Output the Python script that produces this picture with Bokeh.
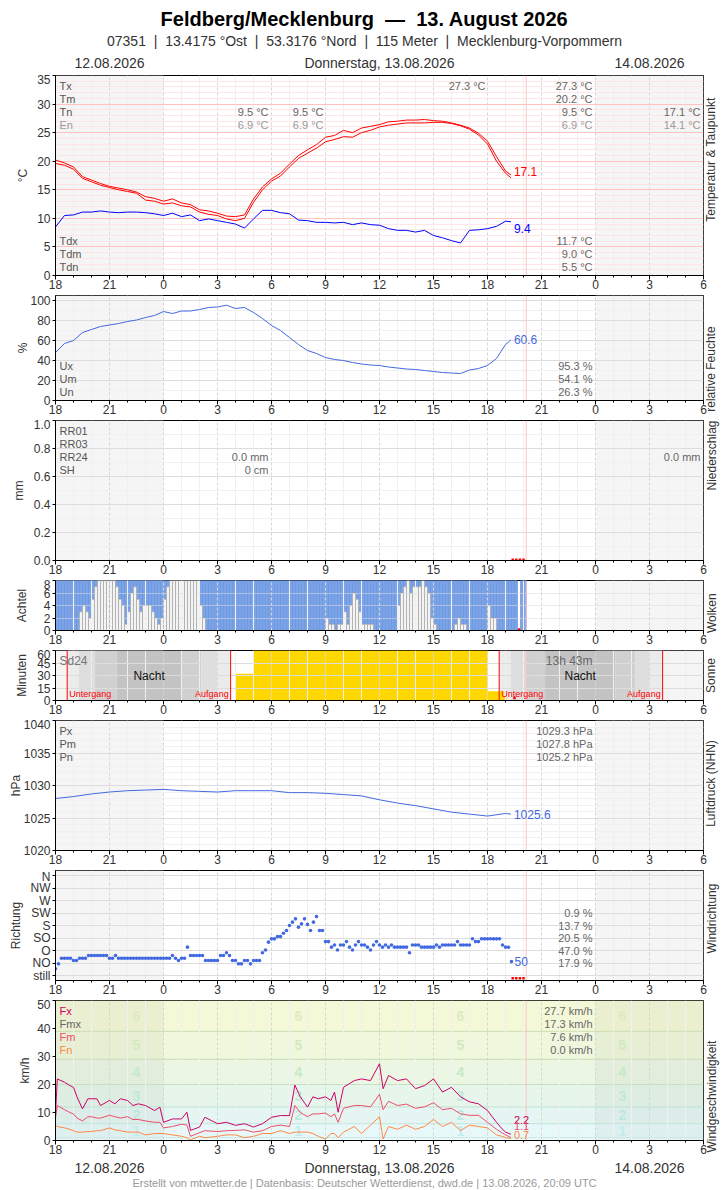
import math
from bokeh.plotting import figure
from bokeh.layouts import column
from bokeh.models import (Range1d, FixedTicker, Label, ColumnDataSource, Span, LinearAxis,
                          CustomJSTickFormatter, NumeralTickFormatter)
from bokeh.core.properties import value
from bokeh.embed import file_html
from bokeh.resources import INLINE

FONT = "Liberation Sans"

# ================= DATA (hours since 12.08.2026 18:00 UTC) =================
hour_ticks = [0, 3, 6, 9, 12, 15, 18, 21, 24, 27, 30, 33, 36]
hour_minor = [h for h in range(0, 37) if h % 3]
other_day_start = [0, 30]
other_day_end = [6, 36]
now_hour = 26.15
date_texts = ["12.08.2026", "Donnerstag, 13.08.2026", "14.08.2026"]
date_hours = [3, 18, 33]

t30 = [0.0, 0.5, 1.0, 1.5, 2.0, 2.5, 3.0, 3.5, 4.0, 4.5, 5.0, 5.5, 6.0, 6.5, 7.0, 7.5,
       8.0, 8.5, 9.0, 9.5, 10.0, 10.5, 11.0, 11.5, 12.0, 12.5, 13.0, 13.5, 14.0, 14.5,
       15.0, 15.5, 16.0, 16.5, 17.0, 17.5, 18.0, 18.5, 19.0, 19.5, 20.0, 20.5, 21.0,
       21.5, 22.0, 22.5, 23.0, 23.5, 24.0, 24.5, 25.0, 25.3]
temp_hi = [20.2, 19.7, 19.0, 17.3, 16.7, 16.1, 15.6, 15.3, 15.0, 14.6, 13.8, 13.5, 13.0,
           13.4, 12.7, 12.4, 11.5, 11.3, 10.9, 10.4, 10.3, 10.6, 13.4, 15.5, 16.9, 17.9,
           19.5, 21.0, 22.0, 22.9, 24.2, 24.5, 25.4, 25.0, 25.8, 26.1, 26.4, 26.9, 27.0,
           27.2, 27.2, 27.3, 27.1, 27.0, 26.7, 26.3, 25.8, 24.9, 23.5, 20.8, 18.3, 17.6]
temp_lo = [19.6, 19.3, 18.6, 17.0, 16.4, 15.8, 15.4, 15.0, 14.7, 14.4, 13.2, 13.0, 12.5,
           12.7, 12.2, 12.0, 11.1, 10.7, 10.5, 9.9, 9.6, 10.0, 12.8, 15.0, 16.5, 17.4,
           19.0, 20.5, 21.4, 22.3, 23.4, 23.8, 24.3, 24.2, 25.0, 25.4, 26.0, 26.3, 26.5,
           26.7, 26.7, 26.7, 26.8, 26.8, 26.6, 26.2, 25.6, 24.6, 23.0, 20.0, 17.9, 17.1]
dewpoint = [8.5, 10.5, 10.6, 11.1, 11.1, 11.3, 11.1, 11.0, 11.1, 11.1, 11.0, 10.8, 10.5,
            10.9, 10.3, 10.6, 9.6, 9.9, 9.6, 9.3, 9.0, 8.3, 9.9, 11.4, 11.4, 11.0, 10.8,
            9.7, 9.6, 9.3, 9.3, 9.2, 9.3, 8.9, 9.2, 8.9, 8.8, 8.2, 7.9, 7.9, 7.6, 7.9,
            7.0, 6.6, 6.1, 5.7, 7.9, 8.0, 8.2, 8.6, 9.5, 9.4]
rel_hum = [48, 57, 60, 68, 71, 74, 75.5, 77, 79, 80.5, 83, 85, 89, 87, 89.5, 89.5, 91, 93,
           93.5, 95.3, 92, 93, 88, 82, 75, 70, 63, 56, 50, 47, 43, 41, 40, 38, 36.5, 35.5,
           35, 33.5, 32.5, 31.5, 31, 30, 29, 28, 27.5, 27, 30.5, 32, 35, 42, 56, 60.6]

p_hours = [0, 1, 2, 3, 4, 5, 6, 7, 8, 9, 10, 11, 12, 13, 14, 15, 16, 17, 18, 19, 20, 21,
           22, 23, 24, 25, 25.3]
pressure = [1028.0, 1028.3, 1028.7, 1029.0, 1029.2, 1029.3, 1029.4, 1029.2, 1029.1,
            1029.0, 1029.2, 1029.2, 1029.2, 1028.9, 1028.9, 1028.8, 1028.6, 1028.4,
            1027.8, 1027.3, 1026.9, 1026.4, 1025.9, 1025.6, 1025.3, 1025.7, 1025.6]

# cloud cover in eighths, 10-minute steps (None = missing)
cloud_octas = [0, 0, 0, 0, 0, 0, 0, 0, 3, 4, 3, 2,
               5, 7, 8, 8, 8, 8, 8, 8, 7, 5, 4, 1,
               3, 6, 7, 5, 3, 4, 4, 4, 3, 2, 1, 2,
               5, 7, 8, 8, 8, 8, 8, 8, 8, 8, 8, 8,
               4, 2, 0, 0, 0, 0, 0, 0, 0, 0, 0, 0,
               0, 0, 0, 0, 0, 0, 0, 0, 0, 0, 0, 0,
               0, 0, 0, 0, 0, 0, 0, 0, 0, 0, 0, 0,
               0, 0, 0, 0, 0, 0, 2, 1, 1, 0, 1, 1,
               3, 1, 4, 6, 5, 3, 1, 1, 1, 1, 0, 0,
               0, 0, 0, 0, 0, 0, 4, 6, 7, 8, 6, 7,
               7, 7, 8, 7, 6, 2, 1, 0, 0, 0, 0, 0,
               0, 1, 2, 1, 1, 0, 0, 0, 0, 0, 0, 0,
               4, 2, 2, 0, 0, 0, 0, 0, 0, 0, None, 0,
               0]

# sunshine minutes per interval
sun_start = [10, 11, 12, 13, 14, 15, 16, 17, 18, 19, 20, 21, 22, 23, 24, 24.92]
sun_end = [11, 12, 13, 14, 15, 16, 17, 18, 19, 20, 21, 22, 23, 24, 24.92, 25.05]
sun_minutes = [32, 60, 60, 60, 60, 60, 60, 60, 60, 60, 60, 60, 60, 60, 11, 5]
# sunset, dusk phases, dawn phases, sunrise (two nights)
night1 = [0.65, 1.3, 2.2, 3.4, 7.0, 8.1, 9.0, 9.73]
night2 = [24.65, 25.3, 26.1, 27.2, 31.1, 32.2, 33.0, 33.73]
twilight_shades = ["#ebebeb", "#dedede", "#d0d0d0", "#c3c3c3", "#d0d0d0", "#dedede", "#ebebeb"]

# wind direction (degrees, 10-minute steps)
wind_dir = [24, 42, 62, 62, 62, 62, 54, 54, 62, 62, 62, 72,
            72, 72, 72, 72, 72, 72, 62, 62, 72, 62, 62, 62,
            62, 62, 62, 62, 62, 62, 62, 62, 62, 62, 62, 62,
            62, 62, 62, 72, 62, 54, 62, 62, 102, 72, 72, 72,
            72, 72, 54, 54, 54, 54, 54, 72, 72, 82, 72, 54,
            54, 42, 42, 54, 54, 42, 54, 54, 54, 82, 92, 120,
            132, 132, 140, 140, 152, 162, 180, 192, 204, 174, 186, 204,
            184, 162, 192, 212, 162, 162, 122, 122, 102, 110, 92, 110,
            110, 122, 102, 92, 110, 122, 110, 110, 102, 92, 110, 122,
            110, 102, 110, 102, 110, 102, 102, 102, 102, 102, 82, 110,
            110, 110, 102, 102, 102, 102, 102, 110, 102, 110, 110, 110,
            110, 110, 122, 110, 110, 110, 110, 132, 122, 122, 132, 132,
            132, 132, 132, 132, 132, 110, 102, 102, 50]
dir_ticks = [0, 45, 90, 135, 180, 225, 270, 315, 360]
dir_names = ["still", "NO", "O", "SO", "S", "SW", "W", "NW", "N"]
dir_share_deg = [225, 180, 135, 90, 45]
dir_share_txt = ["0.9 %", "13.7 %", "20.5 %", "47.0 %", "17.9 %"]

# wind speed km/h
wind_hours = [0, 0.1, 0.5, 0.8, 1.0, 1.2, 1.5, 1.8, 2.0, 2.3, 2.5, 3.0, 3.3, 3.6, 4.0, 4.3,
              4.6, 5.0, 5.5, 5.8, 6.0, 6.5, 7.0, 7.3, 7.5, 8.0, 8.3, 9.0, 9.5, 10.0, 10.5,
              11.0, 11.5, 12.0, 12.5, 13.0, 13.3, 13.6, 14.0, 14.3, 14.6, 15.0, 15.3, 15.5,
              15.7, 16.0, 16.3, 16.6, 17.0, 17.5, 18.0, 18.2, 18.5, 19.0, 19.5, 20.0, 20.5,
              21.0, 21.5, 22.0, 22.5, 23.0, 23.5, 24.0, 24.5, 24.8, 25.0, 25.3]
gust = [9.5, 22.0, 20.8, 19.6, 19.0, 15.5, 11.3, 14.9, 14.9, 14.9,
        12.5, 14.3, 13.1, 14.9, 14.3, 12.5, 13.1, 12.5, 10.7, 11.9,
        6.5, 7.7, 7.7, 10.1, 3.6, 4.8, 8.3, 6.0, 6.5, 5.4,
        6.0, 4.8, 6.0, 8.3, 8.9, 8.9, 19.8, 15.6, 11.9, 15.6,
        14.9, 15.6, 14.3, 17.3, 10.1, 19.0, 20.2, 21.4, 22.0, 21.4,
        27.4, 18.5, 23.2, 21.4, 22.0, 18.5, 19.6, 22.0, 17.3, 19.0,
        15.6, 13.8, 13.1, 10.7, 6.5, 4.2, 3.0, 2.2]
wind_mean = [8.0, 12.5, 11.0, 10.0, 9.5, 8.0, 7.0, 8.5, 8.5, 8.0,
             8.0, 9.0, 8.5, 8.0, 8.5, 7.5, 7.5, 7.0, 6.5, 6.5,
             4.5, 5.0, 5.8, 5.5, 1.5, 2.8, 3.5, 3.2, 3.5, 3.6,
             3.8, 3.0, 3.5, 5.0, 5.5, 5.0, 12.5, 10.0, 8.5, 9.5,
             9.5, 9.8, 8.5, 9.5, 6.5, 11.5, 12.0, 12.5, 12.5, 12.0,
             16.5, 11.0, 14.0, 12.5, 13.0, 11.5, 12.0, 13.5, 11.0, 11.5,
             9.5, 9.0, 9.0, 6.5, 4.0, 2.8, 2.0, 1.1]
wind_min = [5.5, 5.0, 4.5, 4.0, 3.5, 3.0, 3.0, 3.2, 3.2, 3.5,
            3.5, 4.5, 3.8, 3.5, 3.0, 3.0, 3.0, 2.0, 2.5, 2.5,
            2.5, 2.0, 1.5, 1.0, 0.2, 1.5, 1.0, 1.5, 2.0, 2.0,
            1.0, 1.5, 2.5, 2.5, 3.5, 2.5, 3.0, 3.0, 3.0, 2.5,
            1.5, 0.5, 2.5, 2.5, 1.0, 3.0, 4.0, 5.0, 2.5, 5.5,
            8.5, 0.5, 5.0, 4.0, 5.5, 4.0, 5.0, 7.5, 5.0, 6.5,
            3.5, 5.5, 5.0, 4.5, 2.0, 1.5, 1.0, 0.7]
bft_edges = [0, 1, 6, 12, 20, 29, 39, 50]
bft_fill = ["#eefafa", "#e7f8f8", "#e5f6f2", "#e7f6eb", "#ebf6e3", "#eff7dc", "#f3f8d7"]
bft_line = ["#c6e8e8", "#bfe4de", "#bde1d3", "#c3e0c4", "#c6dcb4", "#cbdcb0"]
bft_num_y = [3.5, 9, 16, 24.5, 34, 44.5]
bft_num_txt = ["1", "2", "3", "4", "5", "6"]
bft_num_col = ["#c2ecec", "#bde8e0", "#bfe8d6", "#c6eac6", "#d2eac0", "#dcecc0"]
bft_num_hours = [4.5, 13.5, 22.5, 31.5]

missing_hours = [25.4, 25.6, 25.8, 26.0]

C_T = "#ff0000"
C_TD = "#0000ff"
C_BL = "#4169e1"
C_FX = "#cc0066"
C_FM = "#ee4d6a"
C_FN = "#ff8844"

FIG_W = 728
FL = 55          # frame left (px)
FR_BORDER = 25   # right border (frame right at 703)
XR = Range1d(0, 36)


def base_fig(fh, y0, y1, yticks, yminor, top=1, bottom=19):
    p = figure(width=FIG_W, height=top + fh + bottom, x_range=XR, y_range=Range1d(y0, y1),
               output_backend="svg", toolbar_location=None, title=None,
               min_border_left=FL, min_border_right=FR_BORDER, min_border_top=top,
               min_border_bottom=bottom)
    p.outline_line_color = "#000000"
    p.outline_line_width = 1
    p.outline_line_alpha = 1
    p.background_fill_color = "#ffffff"
    p.border_fill_color = "#ffffff"
    xa = p.xaxis[0]
    xa.ticker = FixedTicker(ticks=hour_ticks, minor_ticks=hour_minor)
    xa.formatter = CustomJSTickFormatter(code="return String((tick + 18) % 24);")
    xa.major_label_text_font = FONT
    xa.major_label_text_font_size = "12px"
    xa.major_label_text_color = "#333333"
    xa.major_tick_out = 4
    xa.major_tick_in = 0
    xa.minor_tick_out = 2
    xa.minor_tick_in = 0
    xa.major_label_standoff = 0
    xa.axis_line_color = "#000000"
    ya = p.yaxis[0]
    ya.ticker = FixedTicker(ticks=yticks, minor_ticks=yminor)
    ya.major_label_text_font = FONT
    ya.major_label_text_font_size = "12px"
    ya.major_label_text_color = "#333333"
    ya.major_tick_out = 3
    ya.major_tick_in = 0
    ya.minor_tick_out = 0
    ya.minor_tick_in = 0
    ya.major_label_standoff = 2
    ya.axis_line_color = "#000000"
    p.xgrid.grid_line_color = "#d6d6d6"
    p.xgrid.grid_line_dash = "3 2"
    p.xgrid.minor_grid_line_color = "#f0f0f0"
    p.ygrid.grid_line_color = "#dddddd"
    p.ygrid.minor_grid_line_color = "#f0f0f0"
    p.add_layout(Span(location=now_hour, dimension="height", line_color="#ffc4c4",
                      line_width=1, level="underlay"))
    return p


def blank_fig(h):
    # Bokeh aligns this frame with the panels' frames (55..703), x in hours
    p = figure(width=FIG_W, height=h, x_range=Range1d(0, 36), y_range=Range1d(0, h),
               output_backend="svg", toolbar_location=None, title=None,
               x_axis_location=None, y_axis_location=None,
               min_border_left=FL, min_border_right=FR_BORDER, min_border_top=0,
               min_border_bottom=0)
    p.outline_line_color = None
    p.grid.visible = False
    p.background_fill_color = "#ffffff"
    p.border_fill_color = "#ffffff"
    return p


def shade(p, y0, y1, color="#f5f5f5", alpha=1.0):
    p.quad(left=other_day_start, right=other_day_end, bottom=y0, top=y1,
           fill_color=color, fill_alpha=alpha, line_color=None, level="image")


def txt(p, ftop, fh, px, py, s, size="11px", color="#555555", align="left", bold=False):
    p.add_layout(Label(x=px - FL, y=ftop + fh - py, x_units="screen", y_units="screen",
                       text=s, text_font=FONT, text_font_size=size, text_color=color,
                       text_align=align, text_baseline="middle",
                       text_font_style=("bold" if bold else "normal")))


def side_labels(p, left, standoff, right):
    ya = p.yaxis[0]
    ya.axis_label = left
    ya.axis_label_standoff = standoff
    ya.axis_label_text_font = FONT
    ya.axis_label_text_font_size = "12px"
    ya.axis_label_text_font_style = "normal"
    ya.axis_label_text_color = "#333333"
    mid = (p.y_range.start + p.y_range.end) / 2
    ax = LinearAxis(ticker=FixedTicker(ticks=[mid], minor_ticks=[]),
                    major_label_overrides={mid: right},
                    major_label_orientation=math.pi / 2, major_label_standoff=8,
                    major_label_text_font=FONT, major_label_text_font_size="12px",
                    major_label_text_color="#333333",
                    axis_line_color=None, major_tick_line_color=None,
                    minor_tick_line_color=None,
                    major_tick_out=0, major_tick_in=0, minor_tick_out=0, minor_tick_in=0)
    p.add_layout(ax, "right")


def end_label(p, x, y, s, color, yoff=0, size="12px"):
    p.add_layout(Label(x=x, y=y, x_offset=3, y_offset=yoff, text=s, text_font=FONT,
                       text_font_size=size, text_color=color, text_align="left",
                       text_baseline="middle"))


figs = []

# ---------------- header ----------------
HH = 74
ph = blank_fig(HH)
ph.add_layout(Label(x=364 - FL, y=HH - 18, x_units="screen", y_units="screen",
                    text="Feldberg/Mecklenburg \u00a0\u2014\u00a0 13. August 2026",
                    text_font=FONT, text_font_size="20px", text_font_style="bold",
                    text_color="#000000", text_align="center", text_baseline="middle"))
ph.add_layout(Label(x=364 - FL, y=HH - 40, x_units="screen", y_units="screen",
                    text="07351 \u00a0|\u00a0 13.4175 \u00b0Ost \u00a0|\u00a0 53.3176 \u00b0Nord \u00a0|\u00a0 115 Meter \u00a0|\u00a0 Mecklenburg-Vorpommern",
                    text_font=FONT, text_font_size="14px", text_color="#333333",
                    text_align="center", text_baseline="middle"))
for dt, dh in zip(date_texts, date_hours):
    ph.add_layout(Label(x=dh, y=HH - 62, x_units="data", y_units="screen", text=dt,
                        text_font=FONT, text_font_size="14px", text_color="#333333",
                        text_align="center", text_baseline="middle"))
figs.append(ph)

# ---------------- 1: temperature ----------------
T1, H1 = 75, 200
p1 = base_fig(H1, 0, 35, [0, 5, 10, 15, 20, 25, 30, 35], [v for v in range(0, 36) if v % 5])
p1.ygrid.grid_line_color = "#ffc2c2"
p1.ygrid.minor_grid_line_color = "#ffe6e6"
shade(p1, 0, 35)
p1.line(t30, temp_hi, color=C_T, line_width=1)
p1.line(t30, temp_lo, color=C_T, line_width=1)
p1.line(t30, dewpoint, color=C_TD, line_width=1)
end_label(p1, t30[-1], temp_lo[-1], f"{temp_lo[-1]:.1f}", C_T, 6)
end_label(p1, t30[-1], dewpoint[-1], f"{dewpoint[-1]:.1f}", C_TD, -7)
for i, s in enumerate(["Tx", "Tm", "Tn"]):
    txt(p1, T1, H1, 59, 85 + 13 * i, s)
txt(p1, T1, H1, 59, 124, "En", color="#999999")
txt(p1, T1, H1, 485, 85, "27.3 \u00b0C", color="#666666", align="right")
for i, s in enumerate(["27.3 \u00b0C", "20.2 \u00b0C", "9.5 \u00b0C"]):
    txt(p1, T1, H1, 592, 85 + 13 * i, s, color="#666666", align="right")
txt(p1, T1, H1, 592, 124, "6.9 \u00b0C", color="#999999", align="right")
for xx in (268, 323):
    txt(p1, T1, H1, xx, 111, "9.5 \u00b0C", color="#666666", align="right")
    txt(p1, T1, H1, xx, 124, "6.9 \u00b0C", color="#999999", align="right")
txt(p1, T1, H1, 700, 111, "17.1 \u00b0C", color="#666666", align="right")
txt(p1, T1, H1, 700, 124, "14.1 \u00b0C", color="#999999", align="right")
for i, (s, v) in enumerate([("Tdx", "11.7 \u00b0C"), ("Tdm", "9.0 \u00b0C"), ("Tdn", "5.5 \u00b0C")]):
    txt(p1, T1, H1, 59, 240 + 13 * i, s)
    txt(p1, T1, H1, 592, 240 + 13 * i, v, color="#666666", align="right")
side_labels(p1, "\u00b0C", 4, "Temperatur & Taupunkt")
figs.append(p1)

# ---------------- 2: humidity ----------------
T2, H2 = 295, 105
p2 = base_fig(H2, 0, 105, [0, 20, 40, 60, 80, 100], [10, 30, 50, 70, 90])
shade(p2, 0, 105)
p2.line(t30, rel_hum, color=C_BL, line_width=1)
end_label(p2, t30[-1], rel_hum[-1], f"{rel_hum[-1]:.1f}", C_BL, 0)
for i, (s, v) in enumerate([("Ux", "95.3 %"), ("Um", "54.1 %"), ("Un", "26.3 %")]):
    txt(p2, T2, H2, 59, 365 + 13 * i, s)
    txt(p2, T2, H2, 592, 365 + 13 * i, v, color="#666666", align="right")
side_labels(p2, "%", -3, "relative Feuchte")
figs.append(p2)

# ---------------- 3: precipitation ----------------
T3, H3 = 420, 140
p3 = base_fig(H3, 0, 1.0, [0, 0.2, 0.4, 0.6, 0.8, 1.0], [0.1, 0.3, 0.5, 0.7, 0.9])
p3.yaxis[0].formatter = NumeralTickFormatter(format="0.0")
shade(p3, 0, 1.0)
p3.scatter(missing_hours, [0.006] * len(missing_hours), marker="square", size=2.5,
           color="#ff0000", line_color=None)
for i, s in enumerate(["RR01", "RR03", "RR24", "SH"]):
    txt(p3, T3, H3, 59, 430 + 13 * i, s)
txt(p3, T3, H3, 268, 456, "0.0 mm", color="#666666", align="right")
txt(p3, T3, H3, 268, 469, "0 cm", color="#666666", align="right")
txt(p3, T3, H3, 700, 456, "0.0 mm", color="#666666", align="right")
side_labels(p3, "mm", 5, "Niederschlag")
figs.append(p3)

# ---------------- 4: clouds ----------------
T4, H4 = 580, 50
p4 = base_fig(H4, 0, 8, [0, 2, 4, 6, 8], [])
p4.ygrid.grid_line_alpha = 0.55
shade(p4, 0, 8)
cx, cn = [], []
for i, n in enumerate(cloud_octas):
    if n is None:
        continue
    cx.append(i / 6 + 1 / 12)
    cn.append(n)
blue = ColumnDataSource(dict(x=[a for a, n in zip(cx, cn) if n < 8],
                             b=[n for n in cn if n < 8],
                             t=[8 for n in cn if n < 8]))
white = ColumnDataSource(dict(x=[a for a, n in zip(cx, cn) if n > 0],
                              t=[n for n in cn if n > 0]))
p4.vbar(x="x", width=1 / 6, bottom="b", top="t", source=blue, fill_color="#7ba3e8",
        line_color="#6b93dd", line_width=0.7, level="image")
p4.vbar(x="x", width=1 / 6, bottom=0, top="t", source=white, fill_color="#f4f4f4",
        line_color="#a8a8a8", line_width=0.8, level="image")
p4.scatter([25.75], [0.15], marker="square", size=2.5, color="#ff0000", line_color=None)
side_labels(p4, "Achtel", 12, "Wolken")
figs.append(p4)

# ---------------- 5: sunshine ----------------
T5, H5 = 650, 50
p5 = base_fig(H5, 0, 60, [0, 15, 30, 45, 60], [])
shade(p5, 0, 60)
for night in (night1, night2):
    p5.quad(left=night[:-1], right=night[1:], bottom=0, top=60,
            fill_color=twilight_shades, line_color=None, level="image")
p5.quad(left=sun_start, right=sun_end, bottom=0, top=sun_minutes, fill_color="#ffd700",
        line_color=None, level="image")
for night in (night1, night2):
    for ev in (night[0], night[-1]):
        p5.add_layout(Span(location=ev, dimension="height", line_color="#ff0000",
                           line_width=1))
    p5.add_layout(Label(x=night[0], y=7, x_units="data", y_units="screen", x_offset=2,
                        text="Untergang", text_font=FONT, text_font_size="9px",
                        text_color="#ff0000", text_align="left", text_baseline="middle"))
    p5.add_layout(Label(x=night[-1], y=7, x_units="data", y_units="screen", x_offset=-2,
                        text="Aufgang", text_font=FONT, text_font_size="9px",
                        text_color="#ff0000", text_align="right", text_baseline="middle"))
    p5.add_layout(Label(x=(night[3] + night[4]) / 2, y=30, text="Nacht", text_font=FONT,
                        text_font_size="12px", text_color="#111111", text_align="center",
                        text_baseline="middle"))
p5.scatter([25.5], [3], marker="square", size=2.5, color="#ff0000", line_color=None)
txt(p5, T5, H5, 59, 660, "Sd24", size="12px", color="#777777")
txt(p5, T5, H5, 592, 660, "13h 43m", size="12px", color="#666666", align="right")
side_labels(p5, "Minuten", 5, "Sonne")
figs.append(p5)

# ---------------- 6: pressure ----------------
T6, H6 = 720, 130
p6 = base_fig(H6, 1020, 1040, [1020, 1025, 1030, 1035, 1040],
              [v for v in range(1020, 1041) if v % 5])
shade(p6, 1020, 1040)
p6.line(p_hours, pressure, color=C_BL, line_width=1)
end_label(p6, p_hours[-1], pressure[-1], f"{pressure[-1]:.1f}", C_BL, 0)
for i, (s, v) in enumerate([("Px", "1029.3 hPa"), ("Pm", "1027.8 hPa"), ("Pn", "1025.2 hPa")]):
    txt(p6, T6, H6, 59, 730 + 13 * i, s)
    txt(p6, T6, H6, 592, 730 + 13 * i, v, color="#666666", align="right")
side_labels(p6, "hPa", -2, "Luftdruck (NHN)")
figs.append(p6)

# ---------------- 7: wind direction ----------------
T7, H7 = 870, 110
p7 = base_fig(H7, -18, 378, dir_ticks, [])
p7.yaxis[0].major_label_overrides = dict(zip(dir_ticks, dir_names))
shade(p7, -18, 378)
dir_hours = [i / 6 for i in range(len(wind_dir))]
p7.scatter(dir_hours, wind_dir, marker="circle", size=3.6, color=C_BL, line_color=None)
p7.scatter(missing_hours, [-10] * len(missing_hours), marker="square", size=2.5,
           color="#ff0000", line_color=None)
end_label(p7, dir_hours[-1], wind_dir[-1], str(wind_dir[-1]), C_BL, 0)
for d, s in zip(dir_share_deg, dir_share_txt):
    p7.add_layout(Label(x=592 - FL, y=d, x_units="screen", y_units="data", text=s,
                        text_font=FONT, text_font_size="11px", text_color="#666666",
                        text_align="right", text_baseline="middle"))
side_labels(p7, "Richtung", 5, "Windrichtung")
figs.append(p7)

# ---------------- 8: wind speed ----------------
T8, H8 = 1000, 140
p8 = base_fig(H8, 0, 50, [0, 10, 20, 30, 40, 50], [])
p8.ygrid.grid_line_color = None
p8.quad(left=0, right=36, bottom=bft_edges[:-1], top=bft_edges[1:], fill_color=bft_fill,
        line_color=None, level="image")
shade(p8, 0, 50, color="#000000", alpha=0.035)
p8.segment(x0=0, x1=36, y0=bft_edges[1:-1], y1=bft_edges[1:-1], line_color=bft_line,
           line_width=1, level="underlay")
nx, ny, nt, nc = [], [], [], []
for h in bft_num_hours:
    for y, s, c in zip(bft_num_y, bft_num_txt, bft_num_col):
        nx.append(h)
        ny.append(y)
        nt.append(s)
        nc.append(c)
p8.text(x="x", y="y", text="t", text_color="c",
        source=ColumnDataSource(dict(x=nx, y=ny, t=nt, c=nc)),
        text_font=value(FONT), text_font_size="14px", text_font_style="bold",
        text_align="center", text_baseline="middle", level="underlay")
p8.line(wind_hours, wind_min, color=C_FN, line_width=1)
p8.line(wind_hours, wind_mean, color=C_FM, line_width=1)
p8.line(wind_hours, gust, color=C_FX, line_width=1)
end_label(p8, wind_hours[-1], gust[-1], f"{gust[-1]:.1f}", C_FX, 14, "11px")
end_label(p8, wind_hours[-1], wind_mean[-1], f"{wind_mean[-1]:.1f}", C_FM, 11, "11px")
end_label(p8, wind_hours[-1], wind_min[-1], f"{wind_min[-1]:.1f}", C_FN, 4, "11px")
for i, (s, c, v) in enumerate([("Fx", C_FX, "27.7 km/h"), ("Fmx", "#666666", "17.3 km/h"),
                               ("Fm", C_FM, "7.6 km/h"), ("Fn", C_FN, "0.0 km/h")]):
    txt(p8, T8, H8, 59, 1010 + 13 * i, s, color=c)
    txt(p8, T8, H8, 592, 1010 + 13 * i, v, color="#666666", align="right")
side_labels(p8, "km/h", 2, "Windgeschwindigkeit")
figs.append(p8)

# ---------------- footer ----------------
FH = 30
pf = blank_fig(FH)
for dt, dh in zip(date_texts, date_hours):
    pf.add_layout(Label(x=dh, y=FH - 8, x_units="data", y_units="screen", text=dt,
                        text_font=FONT, text_font_size="14px", text_color="#333333",
                        text_align="center", text_baseline="middle"))
pf.add_layout(Label(x=364 - FL, y=FH - 23, x_units="screen", y_units="screen",
                    text="Erstellt von mtwetter.de | Datenbasis: Deutscher Wetterdienst, dwd.de | 13.08.2026, 20:09 UTC",
                    text_font=FONT, text_font_size="11px", text_color="#999999",
                    text_align="center", text_baseline="middle"))
figs.append(pf)

layout = column(*figs, spacing=0)
open("out.html", "w").write(file_html(layout, INLINE, title="Feldberg/Mecklenburg"))
